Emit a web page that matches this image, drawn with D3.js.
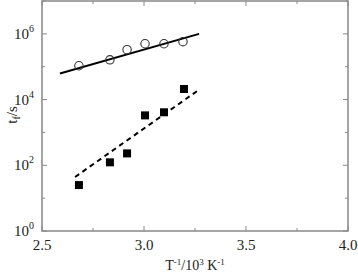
<!DOCTYPE html>
<html><head><meta charset="utf-8">
<script src="https://cdn.jsdelivr.net/npm/d3@7"></script>
<style>body{margin:0;background:#fff}svg{display:block}text{font-family:"Liberation Serif","Times New Roman",serif;fill:#222}</style>
</head><body><svg id="c" width="358" height="276"></svg>
<script>
const xTicks = [2.5, 3.0, 3.5, 4.0];
const xTickLabels = ["2.5", "3.0", "3.5", "4.0"];
const yTickExps = [0, 2, 4, 6];
const circleX = [2.681, 2.833, 2.917, 3.005, 3.098, 3.191];
const circleY = [1.07e5, 1.62e5, 3.3e5, 5.0e5, 5.0e5, 5.8e5];
const squareX = [2.681, 2.833, 2.917, 3.005, 3.098, 3.196];
const squareY = [25, 123, 230, 3300, 4100, 21000];
const solidFitX = [2.588, 3.27];
const solidFitY = [6.2e4, 1.0e6];
const dashFitX = [2.662, 3.265];
const dashFitY = [44, 1.9e4];

const svg = d3.select("#c");
const L = 42, R = 348, T = 1, B = 231;
const x = d3.scaleLinear().domain([2.5, 4.0]).range([L, R]);
const y = d3.scaleLog().domain([1, 1e7]).range([B, T]);
const axisCol = "#888";

// minor ticks
const xMinor = d3.range(2.5, 4.001, 0.25);
const yAll = d3.range(0, 8, 1);
const g = svg.append("g");
xMinor.forEach(v => {
  const len = (Math.abs(v*2 - Math.round(v*2)) < 1e-6) ? 5 : 3;
  g.append("line").attr("x1", x(v)).attr("x2", x(v)).attr("y1", B).attr("y2", B - len).attr("stroke", axisCol);
  g.append("line").attr("x1", x(v)).attr("x2", x(v)).attr("y1", T).attr("y2", T + len).attr("stroke", axisCol);
});
yAll.forEach(e => {
  const len = (e % 2 === 0) ? 5 : 3;
  g.append("line").attr("x1", L).attr("x2", L + len).attr("y1", y(Math.pow(10, e))).attr("y2", y(Math.pow(10, e))).attr("stroke", axisCol);
  g.append("line").attr("x1", R).attr("x2", R - len).attr("y1", y(Math.pow(10, e))).attr("y2", y(Math.pow(10, e))).attr("stroke", axisCol);
});
svg.append("rect").attr("x", L).attr("y", T).attr("width", R - L).attr("height", B - T)
  .attr("fill", "none").attr("stroke", axisCol).attr("stroke-width", 1.5);

// tick labels
xTicks.forEach((v, i) => {
  svg.append("text").attr("x", x(v)).attr("y", 250).attr("text-anchor", "middle")
    .attr("font-size", 15).text(xTickLabels[i]);
});
yTickExps.forEach(e => {
  const t = svg.append("text").attr("x", 34).attr("y", y(Math.pow(10, e)) + 5).attr("text-anchor", "end").attr("font-size", 15);
  t.append("tspan").text("10");
  t.append("tspan").attr("dy", -7).attr("font-size", 10).text(e);
});

// axis titles
const xt = svg.append("text").attr("x", 195).attr("y", 270).attr("text-anchor", "middle").attr("font-size", 14);
xt.append("tspan").text("T");
xt.append("tspan").attr("dy", -5).attr("font-size", 9).text("-1");
xt.append("tspan").attr("dy", 5).text("/10");
xt.append("tspan").attr("dy", -5).attr("font-size", 9).text("3");
xt.append("tspan").attr("dy", 5).text(" K");
xt.append("tspan").attr("dy", -5).attr("font-size", 9).text("-1");

const yt = svg.append("text").attr("transform", "translate(17,115) rotate(-90)").attr("text-anchor", "middle").attr("font-size", 15);
yt.append("tspan").text("t");
yt.append("tspan").attr("dy", 3).attr("font-size", 10).text("f");
yt.append("tspan").attr("dy", -3).text("/s");

// fit lines
const line = d3.line().x(d => x(d[0])).y(d => y(d[1]));
svg.append("path").attr("d", line(d3.zip(solidFitX, solidFitY))).attr("stroke", "#000").attr("stroke-width", 2).attr("fill", "none");
svg.append("path").attr("d", line(d3.zip(dashFitX, dashFitY))).attr("stroke", "#000").attr("stroke-width", 2)
  .attr("stroke-dasharray", "5,4").attr("fill", "none");

// points
svg.selectAll(".c").data(d3.zip(circleX, circleY)).enter().append("circle")
  .attr("cx", d => x(d[0])).attr("cy", d => y(d[1])).attr("r", 4.2)
  .attr("fill", "none").attr("stroke", "#333").attr("stroke-width", 1.1);
svg.selectAll(".s").data(d3.zip(squareX, squareY)).enter().append("rect")
  .attr("x", d => x(d[0]) - 4).attr("y", d => y(d[1]) - 4).attr("width", 8).attr("height", 8)
  .attr("fill", "#000");
</script></body></html>
